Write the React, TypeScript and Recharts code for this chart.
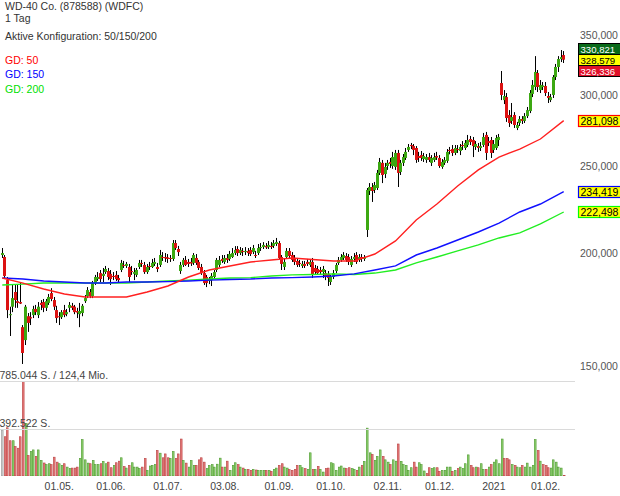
import React from 'react';
import { ComposedChart, Bar, Line, XAxis, YAxis, ReferenceLine } from 'recharts';

// ---------- data (daily candles, price in USD) ----------
const open = [
199.3,198.3,186.9,170.9,174.6,181.3,177.1,176.7,165.7,160.3,
170.4,170.0,170.9,173.6,170.9,176.3,176.7,174.1,176.3,180.8,
177.6,173.1,170.4,170.0,173.1,171.3,174.1,175.0,174.6,172.7,
171.3,171.8,177.1,179.4,181.3,179.4,185.5,187.4,190.3,188.9,
190.8,191.3,189.9,188.9,189.4,187.9,191.8,194.3,193.8,193.3,
191.3,189.9,189.4,193.3,195.3,194.3,190.8,193.8,193.3,194.8,
193.3,194.3,198.3,198.3,198.1,197.8,197.3,205.5,202.4,191.3,
194.3,196.8,195.8,195.8,195.3,197.8,195.8,193.3,190.3,188.4,
186.5,186.9,188.4,191.8,194.3,197.3,195.8,197.8,197.3,198.3,
200.3,202.4,200.3,201.4,200.8,201.4,201.9,200.8,199.3,200.3,
202.9,203.4,204.0,203.4,204.0,204.0,205.0,205.5,198.3,193.3,
198.3,201.4,199.3,197.8,196.3,195.3,193.8,194.8,195.8,194.3,
195.8,192.8,192.3,191.8,190.8,190.3,189.9,186.0,188.4,191.3,
195.3,196.8,197.8,198.8,198.3,194.3,197.3,199.3,196.8,198.3,
197.3,212.5,234.8,237.2,235.4,236.6,245.9,252.3,245.2,250.3,
252.9,250.3,249.7,258.8,246.5,252.3,255.5,260.8,264.1,263.4,
262.1,256.8,257.4,254.8,254.2,256.1,252.3,254.2,256.8,255.5,
249.7,252.3,253.6,260.8,261.4,258.8,261.4,260.1,264.1,262.1,
264.1,268.2,267.5,262.8,263.4,262.1,264.1,271.0,266.8,267.5,
260.8,262.1,267.5,309.5,296.3,298.6,285.2,280.9,285.2,275.9,
279.4,282.3,280.9,284.4,288.1,301.0,306.4,317.6,304.0,306.4,
307.2,299.4,296.3,300.2,314.3,322.5,329.1,332.5
];
const high = [
202.9,199.3,188.4,174.6,184.6,184.6,184.6,185.5,166.6,175.4,
171.8,172.2,175.0,175.4,176.7,177.6,178.1,178.1,180.4,183.1,
179.0,175.0,172.2,173.1,175.4,173.6,176.7,176.3,175.4,174.1,
176.3,175.8,179.9,183.6,182.7,186.5,189.4,190.8,191.8,192.8,
193.8,192.8,191.8,190.8,191.3,189.4,196.8,196.3,195.8,194.8,
193.8,192.8,192.8,196.8,196.8,195.8,194.8,195.8,197.3,197.8,
195.3,201.9,200.8,200.3,199.8,199.3,207.1,207.1,204.0,195.8,
197.8,198.8,197.3,197.8,200.3,199.8,196.8,194.8,191.8,189.4,
188.4,190.3,191.8,197.8,198.8,199.3,199.3,199.8,201.4,202.9,
203.9,203.9,203.4,202.9,203.4,202.9,203.4,204.5,201.4,205.0,
205.5,206.0,205.5,206.6,206.0,207.1,208.2,206.6,199.3,197.3,
202.9,202.9,200.8,199.3,197.8,196.8,196.3,196.3,197.3,197.3,
197.8,194.3,193.8,193.3,193.8,191.8,191.3,189.4,191.8,195.3,
198.3,199.8,200.8,200.3,199.8,198.8,200.3,200.8,199.8,199.8,
199.3,236.6,239.6,239.6,240.3,247.8,255.5,254.2,252.3,254.2,
255.5,259.5,260.8,260.8,254.2,258.1,262.1,264.8,265.5,264.8,
263.4,259.5,260.1,258.8,258.1,258.8,257.4,258.8,259.5,257.4,
254.8,256.1,261.4,262.8,264.1,264.1,264.1,264.8,266.8,267.5,
271.0,270.3,269.6,266.8,265.5,266.1,272.4,273.1,269.6,269.6,
267.5,271.0,271.7,319.2,304.0,301.7,288.8,294.1,287.3,280.2,
284.4,284.4,286.6,291.1,304.0,311.9,331.6,320.0,311.9,310.3,
310.3,302.5,301.0,315.9,325.0,331.6,336.8,335.9
];
const low = [
197.8,187.9,169.6,162.0,172.2,174.1,174.1,175.8,150.8,158.3,
163.7,166.6,169.6,170.9,169.6,173.1,172.2,172.7,175.4,177.1,
173.1,167.5,166.6,169.2,170.0,170.4,172.2,173.1,171.3,169.6,
165.7,170.4,176.3,178.5,178.5,178.5,184.6,186.5,186.0,186.0,
189.9,186.9,184.6,186.9,186.5,186.0,190.8,192.8,192.8,186.0,
189.4,186.9,188.4,192.3,193.3,189.9,189.9,191.8,192.8,193.8,
190.8,193.3,196.3,195.8,195.3,195.8,196.3,201.9,198.8,189.9,
193.3,193.8,193.3,193.8,194.3,194.3,191.8,189.4,184.6,183.6,
185.0,184.1,187.4,190.8,193.3,195.3,194.8,195.3,196.3,197.8,
199.3,198.8,199.3,198.8,199.3,198.8,198.8,199.8,197.8,199.3,
201.4,202.4,202.4,202.4,202.4,202.9,204.0,197.3,191.8,191.8,
197.8,197.8,195.8,194.3,193.3,193.3,192.8,192.8,193.8,193.3,
187.9,189.4,189.4,189.9,187.9,186.9,184.1,184.6,187.4,190.3,
194.3,195.8,196.8,195.8,194.3,193.3,195.8,194.8,195.8,195.8,
196.3,208.7,232.4,228.3,233.6,235.4,244.6,239.6,242.7,247.8,
249.1,248.5,247.8,237.2,244.6,250.3,254.2,259.5,261.4,257.4,
252.3,252.9,253.6,252.9,252.3,252.9,250.3,252.9,254.2,249.1,
248.5,251.0,252.3,257.9,256.8,257.4,258.8,257.4,260.8,260.8,
262.8,264.1,256.1,260.8,259.5,260.1,262.8,254.2,263.4,255.5,
258.8,260.8,263.4,296.3,293.3,280.2,276.6,278.7,275.9,274.4,
277.3,278.7,279.4,283.0,286.6,298.6,304.0,302.5,301.7,304.0,
299.4,294.1,294.8,297.9,311.9,318.4,326.6,325.8
];
const close = [
200.3,188.9,173.1,171.3,178.5,177.6,176.3,176.0,155.1,174.6,
167.5,169.4,173.6,172.2,174.6,175.4,174.1,177.1,179.0,178.1,
174.6,169.6,170.0,172.2,170.9,172.2,175.4,174.1,172.2,172.0,
172.7,175.0,178.5,182.2,179.4,185.5,188.4,188.4,187.4,189.9,
192.3,188.4,187.4,188.4,187.4,186.9,195.3,193.8,194.8,188.4,
190.8,190.8,191.8,195.3,194.8,190.8,193.3,193.3,195.3,195.8,
192.3,199.3,197.8,197.6,197.3,197.3,205.5,202.9,200.8,194.3,
196.8,194.3,194.8,195.0,199.3,195.3,192.8,190.3,185.5,185.5,
187.4,188.9,190.8,196.8,196.8,196.3,197.8,196.8,199.8,200.3,
201.9,200.3,201.9,200.8,201.4,200.3,199.8,202.9,198.8,202.9,
203.4,204.5,203.2,204.5,203.4,205.5,206.0,197.8,194.8,195.8,
201.4,198.8,196.8,195.8,194.3,194.8,194.8,193.8,194.8,195.8,
189.4,190.8,190.3,190.8,192.3,188.9,187.9,188.4,190.3,194.3,
196.8,198.3,199.3,196.8,195.8,197.3,198.3,195.8,198.3,197.3,
198.3,235.4,237.2,234.8,238.4,245.9,252.9,244.6,249.7,252.3,
251.6,256.1,258.8,245.9,252.3,256.1,259.5,262.8,263.4,260.8,
254.2,255.5,255.5,256.8,256.1,254.2,255.5,256.1,255.8,250.3,
252.9,254.2,259.5,260.1,258.8,262.1,260.8,262.8,263.4,265.5,
267.5,266.1,263.4,264.8,262.1,263.4,269.6,258.8,265.5,258.8,
264.8,268.9,269.6,300.2,299.4,283.0,279.4,283.7,278.0,278.0,
282.3,280.9,284.4,288.8,301.7,308.0,318.4,306.4,308.0,307.6,
301.7,297.9,298.6,314.3,322.5,329.1,330.8,328.579
];
// volume in thousand shares
const volume = [
382,327,401,294,294,245,232,327,785.044,436,172,204,218,164,218,
131,110,96,104,96,158,117,104,90,104,76,63,68,68,76,
147,303,136,109,104,131,96,96,104,123,104,117,71,90,112,
125,153,80,68,90,112,76,76,63,76,147,49,85,90,96,
213,191,153,185,153,147,204,147,185,308,131,109,76,131,90,
90,136,153,117,63,90,96,76,100,150,76,76,125,49,90,
112,96,76,68,57,57,49,57,52,49,49,49,49,49,41,
57,68,90,104,76,68,55,49,57,90,
90,71,63,57,194,57,57,82,57,35,63,68,112,104,49,76,85,68,63,71,63,57,49,76,90,123,
398,
194,180,131,164,218,164,136,117,96,136,125,267,
123,96,90,49,71,117,76,112,96,44,22,71,63,71,71,41,49,49,76,76,
41,49,63,76,63,104,177,90,71,76,71,104,57,57,76,96,117,136,104,308,
147,147,136,96,90,76,71,90,76,109,76,90,303,
213,125,96,90,71,68,136,117,76,68,8
];

// moving averages read at sampled days
const maDays = [0,8,16,24,32,40,48,56,64,72,80,88,96,104,112,120,128,136,144,152,160,168,176,184,192,200,208,217];
const ma50 = [187.9,185.5,182.7,180.4,179.0,179.0,179.0,181.3,184.1,188.4,191.8,193.8,195.8,196.8,197.8,197.0,196.3,196.3,199.8,206.6,218.0,227.1,237.8,247.8,256.1,261.4,268.2,281.098];
const ma150 = [187.9,187.4,186.5,186.0,185.5,185.5,186.0,186.0,186.2,186.5,186.9,187.2,187.4,187.9,188.1,188.4,188.9,189.9,191.8,193.8,199.3,202.9,207.1,211.4,216.3,222.5,227.1,234.419];
const ma200 = [184.6,185.0,185.5,185.5,185.5,185.5,185.5,186.0,186.5,186.9,187.4,187.9,188.1,188.9,189.4,189.6,189.9,189.6,190.3,191.8,195.3,198.3,201.4,204.5,208.2,210.9,215.8,222.498];

const priceTicks = [150, 200, 250, 300, 350];
const dateTickIdx = [22, 42, 64, 86, 107, 127, 149, 169, 190, 210];
const dateTickLabels = ['01.05.', '01.06.', '01.07.', '03.08.', '01.09.', '01.10.', '02.11.', '01.12.', '2021', '01.02.'];
const quoteBoxes = [330.821, 328.579, 326.336];
const volMax = 785.044;
const turnoverMio = '124,4';

// ---------- styling ----------
const FONT = "Arial, 'Liberation Sans', sans-serif";
const UP = '#3ca812';
const DOWN = '#dc1212';
const TXT = '#444';
const FS = 10.5;

const fmt = (v: number) => v.toFixed(3).replace('.', ',');

const rows = open.map((o, i) => {
  const k = maDays.indexOf(i);
  return {
    i,
    wick: [low[i], high[i]],
    body: [Math.min(o, close[i]), Math.max(o, close[i])],
    up: close[i] >= o,
    ma50: k >= 0 ? ma50[k] : null,
    ma150: k >= 0 ? ma150[k] : null,
    ma200: k >= 0 ? ma200[k] : null,
    vol: volume[i],
    volDir: i === 0 ? 0 : close[i] >= close[i - 1] ? 1 : -1,
  };
});

const WickShape = (p: any) => {
  if (p.x == null || p.height == null) return null;
  const top = Math.min(p.y, p.y + p.height);
  const h = Math.max(Math.abs(p.height), 1);
  const cx = Math.round(p.x + p.width / 2 - 0.5);
  return <rect x={cx} y={top} width={1} height={h} fill="#000" />;
};

const BodyShape = (p: any) => {
  if (p.x == null || p.height == null) return null;
  const top = Math.min(p.y, p.y + p.height);
  const h = Math.max(Math.abs(p.height), 1);
  const cx = Math.round(p.x + p.width / 2 - 1.5);
  return <rect x={cx} y={top} width={3} height={h} fill={p.payload.up ? UP : DOWN} />;
};

const VolShape = (p: any) => {
  if (p.x == null || p.height == null) return null;
  const d = p.payload.volDir;
  const fill = d > 0 ? '#8fd070' : d < 0 ? '#e77b7b' : '#cfcfcf';
  const stroke = d > 0 ? '#4e9a30' : d < 0 ? '#b84242' : '#999';
  const cx = Math.round(p.x + p.width / 2 - 1);
  return <rect x={cx + 0.3} y={p.y + 0.3} width={1.8} height={Math.max(p.height - 0.3, 0.5)} fill={fill} stroke={stroke} strokeWidth={0.6} />;
};

const QFS = 9.6;
const QuoteStack = (props: any) => {
  const vb = props.viewBox || {};
  const left = vb.x + vb.width + 13;
  const colors = [
    { fill: '#0a6a1a', text: '#fff' },
    { fill: '#ffff00', text: '#000' },
    { fill: '#e0102a', text: '#fff' },
  ];
  return (
    <g>
      {quoteBoxes.map((v, k) => {
        const top = Math.round(vb.y - 16.5 + k * 11);
        return (
          <g key={k}>
            <rect x={left + 0.5} y={top + 0.5} width={44} height={11} fill={colors[k].fill} stroke="#000" strokeWidth={1} />
            <text x={left + 2.5} y={top + 9.6} fontSize={QFS} fill={colors[k].text} fontFamily={FONT}>{fmt(v)}</text>
          </g>
        );
      })}
    </g>
  );
};

const maBox = (value: number, stroke: string) => (props: any) => {
  const vb = props.viewBox || {};
  const left = vb.x + vb.width + 13;
  const top = Math.round(vb.y - 6);
  return (
    <g>
      <rect x={left + 0.5} y={top + 0.5} width={44} height={11} fill="#ffff00" stroke={stroke} strokeWidth={1.2} />
      <text x={left + 2.5} y={top + 10} fontSize={FS} fill="#000" fontFamily={FONT}>{fmt(value)}</text>
    </g>
  );
};

const volGrid = (text: string) => (props: any) => {
  const vb = props.viewBox || {};
  const y = Math.round(vb.y) + 0.5;
  return (
    <g>
      <line x1={vb.x - 1} x2={vb.x + vb.width + 10} y1={y} y2={y} stroke="#dadada" strokeWidth={1} />
      <text x={vb.x - 1.5} y={y - 2.5} fontSize={FS} fill={TXT} fontFamily={FONT}>{text}</text>
    </g>
  );
};

const DateTick = (p: any) => {
  const k = dateTickIdx.indexOf(p.payload.value);
  if (k < 0) return null;
  return (
    <text x={p.x} y={p.y} dy={6} textAnchor="middle" fontSize={FS} fill={TXT} fontFamily={FONT}>
      {dateTickLabels[k]}
    </text>
  );
};

export default function App() {
  const last50 = ma50[ma50.length - 1];
  const last150 = ma150[ma150.length - 1];
  const last200 = ma200[ma200.length - 1];
  return (
    <div style={{ position: 'absolute', left: 0, top: 0, width: 620, height: 496, background: '#fff', fontFamily: FONT, overflow: 'hidden' }}>
      <div style={{ position: 'absolute', left: 0, top: 0 }}>
        <ComposedChart width={620} height={384} data={rows} margin={{ top: 10, right: 0, bottom: 6, left: 1 }}>
          <XAxis xAxisId="w" dataKey="i" hide height={0} />
          <XAxis xAxisId="b" dataKey="i" hide height={0} />
          <YAxis
            yAxisId="p"
            orientation="right"
            scale="log"
            domain={[145.48, 373.13]}
            allowDataOverflow
            ticks={priceTicks}
            width={55}
            axisLine={false}
            tickLine={false}
            tickMargin={9}
            tickFormatter={(v: number) => fmt(v)}
            tick={{ fontSize: FS, fill: '#555', fontFamily: FONT }}
          />
          <Bar xAxisId="w" yAxisId="p" dataKey="wick" shape={WickShape} isAnimationActive={false} />
          <Bar xAxisId="b" yAxisId="p" dataKey="body" shape={BodyShape} isAnimationActive={false} />
          <Line xAxisId="b" yAxisId="p" dataKey="ma200" stroke="#22ee22" strokeWidth={1.4} dot={false} connectNulls isAnimationActive={false} />
          <Line xAxisId="b" yAxisId="p" dataKey="ma150" stroke="#1010ff" strokeWidth={1.4} dot={false} connectNulls isAnimationActive={false} />
          <Line xAxisId="b" yAxisId="p" dataKey="ma50" stroke="#ff2020" strokeWidth={1.4} dot={false} connectNulls isAnimationActive={false} />
          <ReferenceLine xAxisId="b" yAxisId="p" y={last50} stroke="none" label={maBox(last50, '#ff0000')} />
          <ReferenceLine xAxisId="b" yAxisId="p" y={last150} stroke="none" label={maBox(last150, '#0000ff')} />
          <ReferenceLine xAxisId="b" yAxisId="p" y={last200} stroke="none" label={maBox(last200, '#00ff00')} />
          <ReferenceLine xAxisId="b" yAxisId="p" y={quoteBoxes[1]} stroke="none" label={QuoteStack} />
        </ComposedChart>
      </div>
      <div style={{ position: 'absolute', left: 0, top: 370 }}>
        <ComposedChart width={620} height={126} data={rows} margin={{ top: 11, right: 55, bottom: 0, left: 1 }}>
          <XAxis
            dataKey="i"
            height={20}
            ticks={dateTickIdx}
            interval={0}
            axisLine={false}
            tickLine={false}
            tick={DateTick}
          />
          <YAxis yAxisId="v" hide domain={[0, volMax]} allowDataOverflow />
          <ReferenceLine yAxisId="v" y={volMax} stroke="none" label={volGrid(`${volMax.toFixed(3)} S. / ${turnoverMio} Mio.`)} />
          <ReferenceLine yAxisId="v" y={volMax / 2} stroke="none" label={volGrid(`${(volMax / 2).toFixed(3)} S.`)} />
          <Bar yAxisId="v" dataKey="vol" shape={VolShape} isAnimationActive={false} />
        </ComposedChart>
      </div>
      <svg width={260} height={100} style={{ position: 'absolute', left: 0, top: 0 }}>
        <g fontFamily={FONT} fontSize={FS}>
          <text x={5} y={9.5} fill="#333">WD-40 Co. (878588) (WDFC)</text>
          <text x={5} y={21.5} fill="#333">1 Tag</text>
          <text x={5} y={40} fill="#333">Aktive Konfiguration: 50/150/200</text>
          <text x={5} y={64} fill="#ff0000">GD: 50</text>
          <text x={5} y={78} fill="#0000ff">GD: 150</text>
          <text x={5} y={92.5} fill="#00e000">GD: 200</text>
        </g>
      </svg>
    </div>
  );
}
